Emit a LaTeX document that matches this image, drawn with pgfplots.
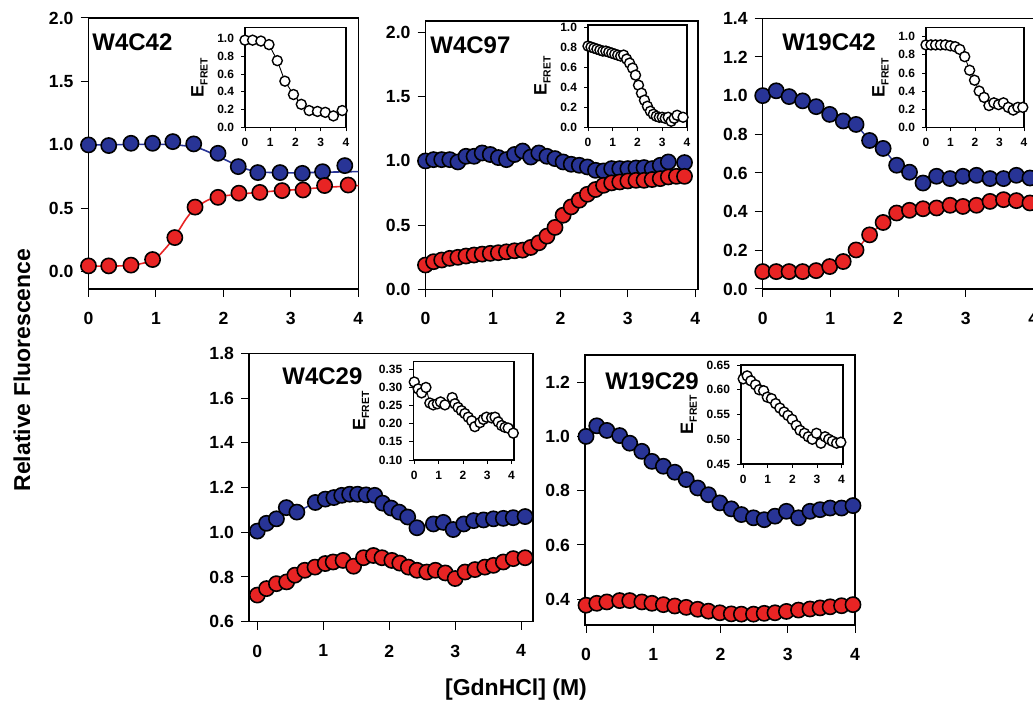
\documentclass[border=0pt]{standalone}
\usepackage{fontspec}
\setmainfont{Liberation Sans}
\usepackage{pgfplots}
\pgfplotsset{compat=1.18}
\definecolor{fblue}{RGB}{40,52,150}
\definecolor{fred}{RGB}{232,36,36}

\pgfplotsset{
  panel/.style={scale only axis, clip=false, xmin=0, xmax=4, xtick={0,1,2,3,4},
    axis line style={line width=0.7pt}, tick align=outside,
    xtick pos=bottom, ytick pos=left, major tick length=4pt,
    tick style={line width=0.5pt, black},
    tick label style={font=\fontsize{8.8}{10}\selectfont\bfseries},
    /pgf/number format/assume math mode=true,
    yticklabel style={/pgf/number format/.cd, fixed, fixed zerofill, precision=1},
    xticklabel style={yshift=-4pt}},
  inset/.style={scale only axis, clip=false, xmin=0, xmax=4, xtick={0,1,2,3,4},
    axis background/.style={fill=white},
    axis line style={line width=0.6pt}, tick align=outside,
    xtick pos=bottom, ytick pos=left, major tick length=2pt,
    tick style={line width=0.4pt, black},
    tick label style={font=\fontsize{6}{7}\selectfont\bfseries},
    /pgf/number format/assume math mode=true,
    yticklabel style={/pgf/number format/.cd, fixed, fixed zerofill, precision=1},
    ylabel={E\raisebox{-0.4ex}{\fontsize{5.2}{6}\selectfont FRET}},
    ylabel style={font=\fontsize{9}{10}\selectfont\bfseries, yshift=-2pt}},
  bl/.style={color=fblue, line width=0.7pt, mark=*, mark size=3.8pt,
    mark options={fill=fblue, draw=black, line width=0.8pt}},
  rd/.style={color=fred, line width=0.7pt, mark=*, mark size=3.8pt,
    mark options={fill=fred, draw=black, line width=0.8pt}},
  ef/.style={black, line width=0.45pt, mark=*, mark size=2.5pt,
    mark options={fill=white, draw=black, line width=0.7pt}},
}

\begin{document}
\begin{tikzpicture}[x=0.5pt, y=0.5pt]
\useasboundingbox (0,0) rectangle (1033,-704);

% ---- W4C42
\begin{axis}[panel, at={(44.25pt,-144.5pt)}, anchor=south west, width=134.9pt, height=135.5pt,
  ymin=-0.135, ymax=2.0, ytick={0,0.5,1,1.5,2}]
\addplot[fblue, line width=0.8pt, smooth] coordinates {
  (0,1.0) (1.0,1.005) (1.3,1.0) (1.6,0.98) (1.8,0.94) (2.0,0.89) (2.2,0.84)
  (2.4,0.80) (2.6,0.785) (3.0,0.78) (3.5,0.785) (4.0,0.79)};
\addplot[fred, line width=0.8pt, smooth] coordinates {
  (0,0.045) (0.6,0.05) (0.95,0.09) (1.1,0.16) (1.27,0.27) (1.45,0.42) (1.58,0.5)
  (1.75,0.56) (1.9,0.59) (2.2,0.61) (2.6,0.63) (3.0,0.645) (3.5,0.665) (4.0,0.68)};
\addplot[bl, only marks] coordinates {
  (0,1.0) (0.3,0.995) (0.63,1.013) (0.95,1.013) (1.25,1.026) (1.56,1.008) (1.92,0.934)
  (2.22,0.829) (2.51,0.782) (2.84,0.782) (3.17,0.776) (3.47,0.789) (3.8,0.837)};
\addplot[rd, only marks] coordinates {
  (0,0.047) (0.3,0.047) (0.63,0.053) (0.95,0.097) (1.28,0.27) (1.58,0.51) (1.92,0.587)
  (2.23,0.62) (2.54,0.626) (2.87,0.64) (3.18,0.645) (3.5,0.68) (3.85,0.684)};
\end{axis}
\begin{axis}[inset, at={(122.5pt,-63.75pt)}, anchor=south west, width=50.5pt, height=49.9pt,
  ymin=0, ymax=1.12, ytick={0,0.2,0.4,0.6,0.8,1.0}]
\addplot[ef] coordinates {
  (0,0.98) (0.3,0.98) (0.63,0.97) (0.95,0.93) (1.28,0.75) (1.58,0.52) (1.92,0.37)
  (2.23,0.26) (2.54,0.19) (2.87,0.18) (3.18,0.17) (3.5,0.13) (3.85,0.19)};
\end{axis}

% ---- W4C97
\begin{axis}[panel, at={(212.75pt,-144.65pt)}, anchor=south west, width=136.25pt, height=134.15pt,
  xmax=4.04, ymin=0, ymax=2.09, ytick={0,0.5,1,1.5,2}]
\addplot[bl] coordinates {
  (0,1.0) (0.12,1.01) (0.24,1.01) (0.36,1.01) (0.48,0.992) (0.6,1.036) (0.72,1.036)
  (0.84,1.062) (0.96,1.05) (1.08,1.026) (1.2,1.01) (1.32,1.05) (1.44,1.077) (1.56,1.03)
  (1.68,1.062) (1.8,1.036) (1.92,1.018) (2.04,0.992) (2.16,0.974) (2.28,0.966) (2.4,0.953)
  (2.52,0.927) (2.64,0.922) (2.76,0.94) (2.88,0.94) (3.0,0.94) (3.12,0.945) (3.24,0.948)
  (3.36,0.94) (3.48,0.966) (3.6,0.992) (3.84,0.987)};
\addplot[rd] coordinates {
  (0,0.189) (0.12,0.215) (0.24,0.228) (0.36,0.241) (0.48,0.249) (0.6,0.259) (0.72,0.267)
  (0.84,0.274) (0.96,0.28) (1.08,0.285) (1.2,0.292) (1.32,0.3) (1.44,0.305) (1.56,0.326)
  (1.68,0.362) (1.8,0.414) (1.92,0.482) (2.04,0.577) (2.16,0.642) (2.28,0.694) (2.4,0.74)
  (2.52,0.777) (2.64,0.81) (2.76,0.829) (2.88,0.836) (3.0,0.844) (3.12,0.849) (3.24,0.849)
  (3.36,0.855) (3.48,0.862) (3.6,0.875) (3.72,0.88) (3.84,0.88)};
\end{axis}
\begin{axis}[inset, at={(294pt,-63.65pt)}, anchor=south west, width=49.5pt, height=51.15pt,
  ymin=0, ymax=1.02, ytick={0,0.2,0.4,0.6,0.8,1.0}]
\addplot[ef] coordinates {
  (0,0.81) (0.12,0.80) (0.24,0.79) (0.36,0.78) (0.48,0.77) (0.6,0.76) (0.72,0.76)
  (0.84,0.75) (0.96,0.74) (1.08,0.73) (1.2,0.72) (1.32,0.71) (1.44,0.72) (1.56,0.68)
  (1.68,0.64) (1.8,0.59) (1.92,0.52) (2.04,0.42) (2.16,0.34) (2.28,0.27) (2.4,0.21)
  (2.52,0.16) (2.64,0.13) (2.76,0.11) (2.88,0.10) (3.0,0.10) (3.12,0.09) (3.24,0.10)
  (3.36,0.06) (3.48,0.09) (3.6,0.12) (3.84,0.10)};
\end{axis}

% ---- W19C42
\begin{axis}[panel, at={(381.35pt,-144.5pt)}, anchor=south west, width=135.3pt, height=135.35pt,
  ymin=0, ymax=1.4, ytick={0,0.2,0.4,0.6,0.8,1.0,1.2,1.4}]
\addplot[bl] coordinates {
  (0,1.0) (0.2,1.025) (0.39,0.995) (0.59,0.973) (0.79,0.943) (0.99,0.903) (1.19,0.869)
  (1.38,0.851) (1.58,0.768) (1.78,0.727) (1.98,0.64) (2.17,0.604) (2.37,0.548) (2.57,0.583)
  (2.77,0.571) (2.96,0.583) (3.16,0.588) (3.36,0.571) (3.56,0.571) (3.75,0.588) (3.95,0.574)};
\addplot[rd] coordinates {
  (0,0.09) (0.2,0.09) (0.39,0.09) (0.59,0.09) (0.79,0.095) (0.99,0.116) (1.19,0.142)
  (1.38,0.202) (1.58,0.28) (1.78,0.344) (1.98,0.393) (2.17,0.407) (2.37,0.415) (2.57,0.419)
  (2.77,0.433) (2.96,0.427) (3.16,0.433) (3.36,0.453) (3.56,0.462) (3.75,0.457) (3.95,0.445)};
\end{axis}
\begin{axis}[inset, at={(463pt,-63.65pt)}, anchor=south west, width=49pt, height=49.8pt,
  ymin=0, ymax=1.1, ytick={0,0.2,0.4,0.6,0.8,1.0}]
\addplot[ef] coordinates {
  (0,0.91) (0.2,0.91) (0.39,0.91) (0.59,0.91) (0.79,0.91) (0.99,0.90) (1.19,0.89)
  (1.38,0.86) (1.58,0.78) (1.78,0.63) (1.98,0.52) (2.17,0.40) (2.37,0.33) (2.57,0.24)
  (2.77,0.27) (2.96,0.25) (3.16,0.27) (3.36,0.22) (3.56,0.19) (3.75,0.22) (3.95,0.22)};
\end{axis}

% ---- W4C29
\begin{axis}[panel, at={(124.5pt,-310.85pt)}, anchor=south west, width=142pt, height=134.2pt,
  xmin=-0.126, xmax=4.18, ymin=0.6, ymax=1.8, ytick={0.6,0.8,1.0,1.2,1.4,1.6,1.8}]
\addplot[bl] coordinates {
  (0,1.005) (0.14,1.04) (0.29,1.06) (0.44,1.11) (0.6,1.09) (0.88,1.133) (1.03,1.148)
  (1.16,1.155) (1.28,1.165) (1.4,1.17) (1.52,1.17) (1.65,1.167) (1.78,1.165) (1.9,1.13)
  (2.03,1.108) (2.15,1.09) (2.28,1.068) (2.42,1.02) (2.67,1.037) (2.82,1.044) (2.97,1.012)
  (3.13,1.037) (3.28,1.052) (3.43,1.055) (3.58,1.06) (3.73,1.062) (3.88,1.065) (4.06,1.07)};
\addplot[rd] coordinates {
  (0,0.719) (0.14,0.748) (0.29,0.77) (0.445,0.778) (0.57,0.808) (0.72,0.83) (0.875,0.844)
  (1.03,0.86) (1.15,0.867) (1.3,0.874) (1.46,0.848) (1.61,0.886) (1.76,0.896) (1.89,0.886)
  (2.04,0.874) (2.16,0.862) (2.29,0.844) (2.42,0.83) (2.57,0.822) (2.7,0.83) (2.85,0.818)
  (3.0,0.793) (3.15,0.822) (3.3,0.833) (3.45,0.844) (3.58,0.852) (3.73,0.867) (3.88,0.882)
  (4.06,0.886)};
\end{axis}
\begin{axis}[inset, at={(206.65pt,-230pt)}, anchor=south west, width=50.35pt, height=49.15pt,
  xmin=-0.04, xmax=4.1, ymin=0.1, ymax=0.371, ytick={0.10,0.15,0.20,0.25,0.30,0.35},
  yticklabel style={/pgf/number format/precision=2}]
\addplot[ef] coordinates {
  (0,0.315) (0.16,0.296) (0.3,0.285) (0.48,0.300) (0.64,0.257) (0.78,0.252) (0.95,0.255)
  (1.08,0.26) (1.26,0.252) (1.56,0.272) (1.67,0.255) (1.8,0.245) (1.94,0.236) (2.08,0.228)
  (2.22,0.218) (2.36,0.208) (2.49,0.192) (2.7,0.203) (2.84,0.212) (2.97,0.218) (3.18,0.216)
  (3.32,0.218) (3.45,0.205) (3.59,0.195) (3.73,0.19) (3.86,0.188) (4.07,0.174)};
\end{axis}

% ---- W19C29
\begin{axis}[panel, at={(292.5pt,-312.5pt)}, anchor=south west, width=135pt, height=135pt,
  xmin=-0.015, ymin=0.305, ymax=1.3, ytick={0.4,0.6,0.8,1.0,1.2}]
\addplot[bl] coordinates {
  (0,1.0) (0.16,1.039) (0.31,1.022) (0.5,1.003) (0.65,0.975) (0.83,0.945) (0.98,0.908)
  (1.15,0.89) (1.32,0.868) (1.49,0.841) (1.66,0.81) (1.82,0.785) (1.99,0.755) (2.16,0.733)
  (2.31,0.712) (2.49,0.70) (2.65,0.693) (2.81,0.706) (2.98,0.724) (3.16,0.70) (3.33,0.724)
  (3.48,0.73) (3.63,0.736) (3.8,0.736) (3.97,0.745)};
\addplot[rd] coordinates {
  (0,0.378) (0.16,0.385) (0.31,0.39) (0.5,0.395) (0.65,0.395) (0.83,0.39) (0.98,0.385)
  (1.15,0.38) (1.32,0.375) (1.49,0.37) (1.66,0.363) (1.82,0.356) (1.99,0.35) (2.16,0.346)
  (2.31,0.345) (2.49,0.345) (2.65,0.348) (2.81,0.35) (2.98,0.355) (3.16,0.36) (3.33,0.364)
  (3.48,0.368) (3.63,0.372) (3.8,0.376) (3.97,0.38)};
\end{axis}
\begin{axis}[inset, at={(370.5pt,-232pt)}, anchor=south west, width=51pt, height=49.5pt,
  xmin=-0.09, xmax=4.06, ymin=0.45, ymax=0.65, ytick={0.45,0.50,0.55,0.60,0.65},
  yticklabel style={/pgf/number format/precision=2}]
\addplot[ef] coordinates {
  (0,0.622) (0.16,0.628) (0.31,0.618) (0.5,0.610) (0.65,0.600) (0.83,0.598) (0.98,0.585)
  (1.15,0.582) (1.32,0.572) (1.49,0.563) (1.66,0.555) (1.82,0.548) (1.99,0.540) (2.16,0.528)
  (2.31,0.518) (2.49,0.512) (2.65,0.505) (2.81,0.500) (2.98,0.512) (3.16,0.492) (3.33,0.505)
  (3.48,0.500) (3.63,0.496) (3.8,0.492) (3.97,0.494)};
\end{axis}

% panel names and shared labels
\begin{scope}[font=\fontsize{12}{14}\selectfont\bfseries]
\node[anchor=west, inner sep=0] at (92,-42.5) {W4C42};
\node[anchor=west, inner sep=0] at (430,-45.5) {W4C97};
\node[anchor=west, inner sep=0] at (782,-42) {W19C42};
\node[anchor=west, inner sep=0] at (282,-376) {W4C29};
\node[anchor=west, inner sep=0] at (605,-381) {W19C29};
\end{scope}
\node[rotate=90, font=\fontsize{11.5}{13}\selectfont\bfseries] at (22,-370) {Relative Fluorescence};
\node[font=\fontsize{11.5}{13}\selectfont\bfseries] at (516,-690) {[GdnHCl] (M)};
\end{tikzpicture}
\end{document}
